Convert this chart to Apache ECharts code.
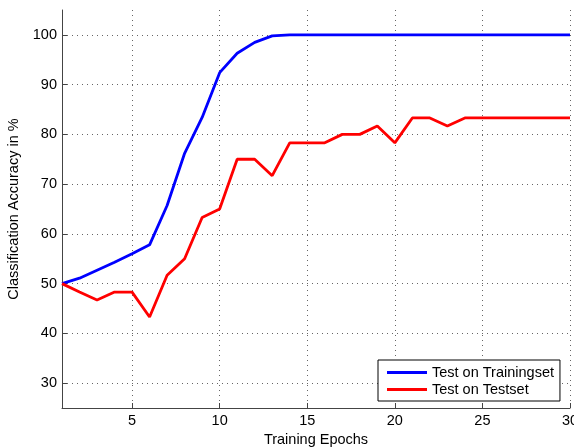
<!DOCTYPE html>
<html>
<head>
<meta charset="utf-8">
<script src="https://cdn.jsdelivr.net/npm/echarts@6/dist/echarts.min.js"></script>
<style>html,body{margin:0;padding:0;background:#fff;}#c{width:574px;height:447px;}</style>
</head>
<body>
<div id="c"></div>
<script>
const epochs = [1,2,3,4,5,6,7,8,9,10,11,12,13,14,15,16,17,18,19,20,21,22,23,24,25,26,27,28,29,30];
const trainAcc = [50,51.1,52.7,54.3,56.0,57.8,65.7,76.2,83.4,92.4,96.3,98.5,99.8,100,100,100,100,100,100,100,100,100,100,100,100,100,100,100,100,100];
const testAcc = [50,48.3,46.7,48.3,48.3,43.3,51.7,55.0,63.3,65.0,75.0,75.0,71.7,78.3,78.3,78.3,80.0,80.0,81.7,78.3,83.3,83.3,81.7,83.3,83.3,83.3,83.3,83.3,83.3,83.3];
const xTicks = [5,10,15,20,25,30];
const yTicks = [30,40,50,60,70,80,90,100];
const seriesNames = ['Test on Trainingset','Test on Testset'];

const font = 'Liberation Sans, Arial, Helvetica, sans-serif';
const fs = 14.5;
const chart = echarts.init(document.getElementById('c'));
chart.setOption({
  animation: false,
  grid: {left: 62, right: 4, top: 10, bottom: 39, containLabel: false, outerBoundsMode: 'none'},
  legend: {
    orient: 'vertical', left: 378, top: 360,
    backgroundColor: '#fff', borderColor: '#000', borderWidth: 1,
    padding: [4, 6, 3, 9], itemGap: 0, itemWidth: 40, itemHeight: 3,
    textStyle: {fontFamily: font, fontSize: fs, color: '#000', lineHeight: 17},
    data: seriesNames.map(n => ({name: n, icon: 'rect'}))
  },
  xAxis: {
    type: 'value', min: 1, max: 30,
    name: 'Training Epochs', nameLocation: 'middle', nameGap: 22,
    nameTextStyle: {fontFamily: font, fontSize: fs, color: '#000'},
    axisLine: {lineStyle: {color: '#444', width: 1}},
    axisTick: {inside: true, length: 5, customValues: xTicks, lineStyle: {color: '#444'}},
    axisLabel: {customValues: xTicks, fontFamily: font, fontSize: fs, color: '#000', margin: 5},
    splitLine: {show: true, lineStyle: {color: '#666', type: [1, 4], width: 1}}
  },
  yAxis: {
    type: 'value', min: 25, max: 105,
    name: 'Classification Accuracy in %', nameLocation: 'middle', nameGap: 32,
    nameTextStyle: {fontFamily: font, fontSize: fs, color: '#000'},
    axisLine: {show: true, lineStyle: {color: '#444', width: 1}},
    axisTick: {show: true, inside: true, length: 5, customValues: yTicks, lineStyle: {color: '#444'}},
    axisLabel: {customValues: yTicks, fontFamily: font, fontSize: fs, color: '#000', margin: 5},
    splitLine: {show: true, lineStyle: {color: '#666', type: [1, 4], width: 1}}
  },
  series: [
    {name: seriesNames[0], type: 'line', symbol: 'none', color: '#0000ff',
     lineStyle: {width: 2.8, color: '#0000ff'}, data: epochs.map((e, i) => [e, trainAcc[i]])},
    {name: seriesNames[1], type: 'line', symbol: 'none', color: '#ff0000',
     lineStyle: {width: 2.8, color: '#ff0000'}, data: epochs.map((e, i) => [e, testAcc[i]])}
  ]
});
</script>
</body>
</html>
